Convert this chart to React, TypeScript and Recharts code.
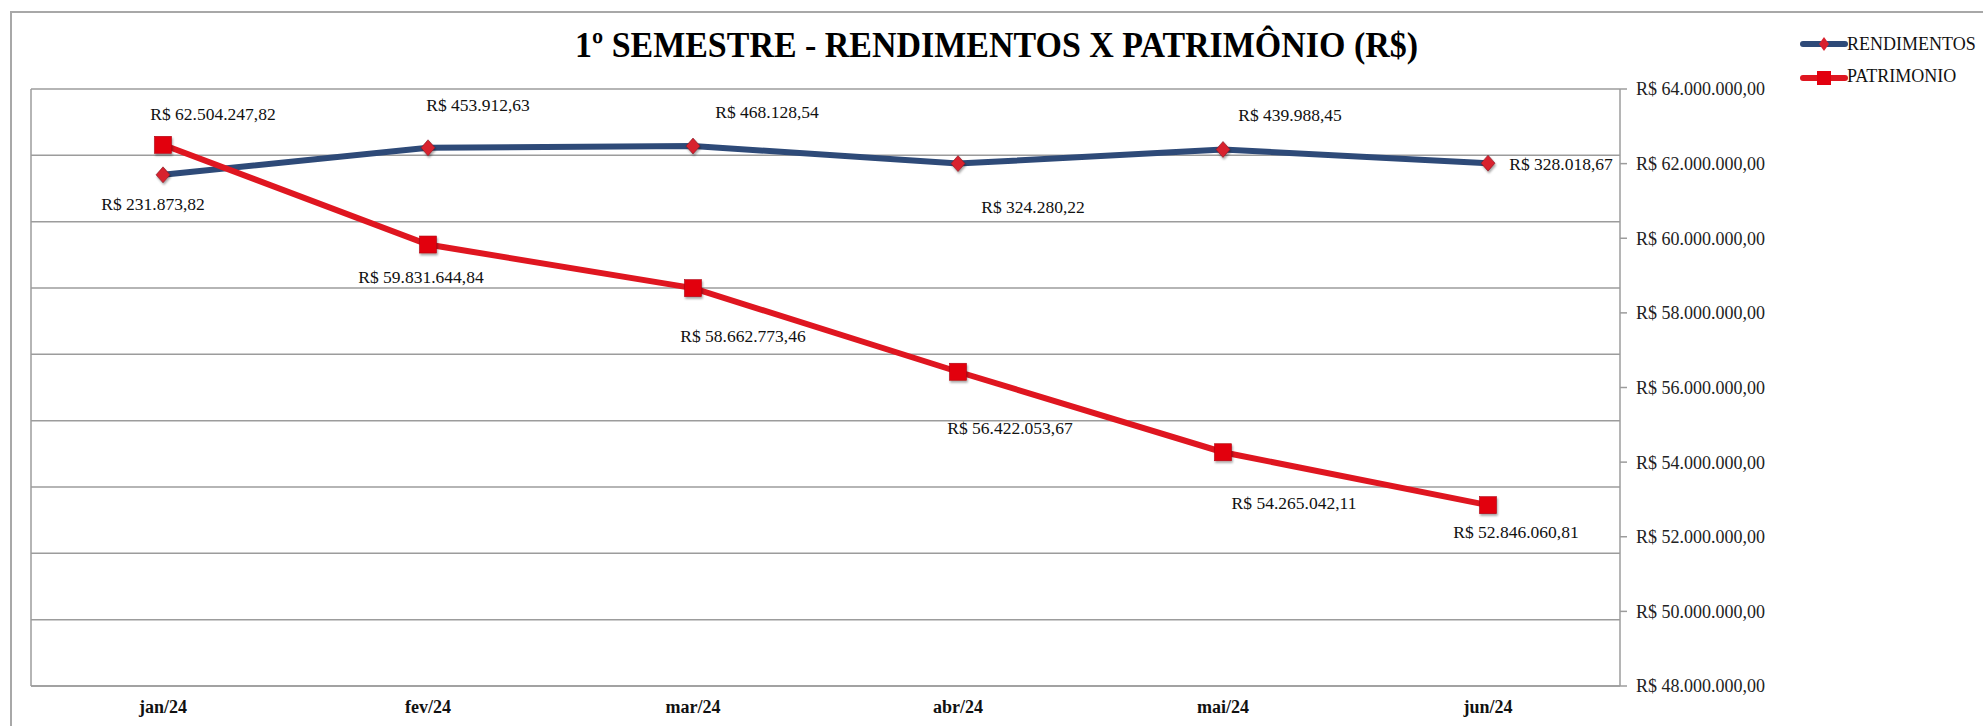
import React from 'react';
import { LineChart, Line, XAxis, YAxis, CartesianGrid, LabelList } from 'recharts';

const title = '1º SEMESTRE - RENDIMENTOS X PATRIMÔNIO (R$)';
const months = ['jan/24', 'fev/24', 'mar/24', 'abr/24', 'mai/24', 'jun/24'];
const rendimentos = [231873.82, 453912.63, 468128.54, 324280.22, 439988.45, 328018.67];
const patrimonio = [62504247.82, 59831644.84, 58662773.46, 56422053.67, 54265042.11, 52846060.81];
const seriesNames = ['RENDIMENTOS', 'PATRIMONIO'];
const patrimonioTicks = [48000000, 50000000, 52000000, 54000000, 56000000, 58000000, 60000000, 62000000, 64000000];
// hidden primary axis (rendimentos) – its ticks drive the horizontal gridlines
const rendimentosTicks = [-3960000, -3416000, -2872000, -2328000, -1784000, -1240000, -696000, -152000, 392000, 936000];

// label placement offsets (dx, dy) relative to each point – layout only
const rendLabelOffsets = [[-10, 29], [50, -43], [74, -34], [75, 43], [67, -34], [73, 1]];
const patrLabelOffsets = [[50, -31], [-7, 32], [50, 48], [52, 56], [71, 51], [28, 27]];

const data = months.map((m, i) => ({ month: m, rend: rendimentos[i], patr: patrimonio[i] }));

const brl = (v: number) => {
  const [i, d] = Math.abs(v).toFixed(2).split('.');
  const withDots = i.replace(/\B(?=(\d{3})+(?!\d))/g, '.');
  return 'R$ ' + withDots + ',' + d;
};

const FONT = '"Liberation Serif", "Times New Roman", serif';
const BLUE = '#2E4A78';
const RED = '#DF1620';
const GRID = '#9c9c9c';

const makeLabel = (offsets: number[][]) => (p: any) => {
  const idx = p.index ?? 0;
  const off = offsets[idx] || [0, 0];
  return (
    <text
      key={'l' + idx}
      x={Number(p.x) + off[0]}
      y={Number(p.y) + off[1]}
      textAnchor="middle"
      dominantBaseline="central"
      fontFamily={FONT}
      fontSize={17.5}
      fill="#111"
    >
      {brl(Number(p.value))}
    </text>
  );
};

const Diamond = (p: any) => {
  const { cx, cy, index } = p;
  if (cx == null || cy == null) return <g key={'d' + index} />;
  return (
    <path
      key={'d' + index}
      d={`M${cx},${cy - 8} L${cx + 7},${cy} L${cx},${cy + 8} L${cx - 7},${cy} Z`}
      fill="#D8202D"
      stroke="#7a1c26"
      strokeWidth={0.6}
      filter="url(#mkShadow)"
    />
  );
};

const Square = (p: any) => {
  const { cx, cy, index } = p;
  if (cx == null || cy == null) return <g key={'s' + index} />;
  return (
    <rect
      key={'s' + index}
      x={cx - 8.5}
      y={cy - 8.5}
      width={17}
      height={17}
      fill="#E2000F"
      stroke="#b0000a"
      strokeWidth={0.6}
      filter="url(#mkShadow)"
    />
  );
};

const hGen = (args: any) => {
  const ax = args && args.yAxis;
  const off = args && args.offset;
  const s = ax && ax.scale;
  if (typeof s === 'function') return rendimentosTicks.map((t) => s(t));
  if (s && typeof s.map === 'function') return rendimentosTicks.map((t) => s.map(t));
  if (off) {
    const min = rendimentosTicks[0];
    const max = rendimentosTicks[rendimentosTicks.length - 1];
    return rendimentosTicks.map((t) => off.top + ((max - t) / (max - min)) * off.height);
  }
  return [];
};

const vGen = (args: any) => {
  const off = args && args.offset;
  return off ? [off.left] : [];
};

export default function App() {
  return (
    <div
      style={{
        position: 'absolute',
        left: 0,
        top: 0,
        width: 1983,
        height: 726,
        background: '#fff',
        overflow: 'hidden',
      }}
    >
      <div
        style={{
          position: 'absolute',
          left: 10,
          top: 11,
          width: 2100,
          height: 900,
          border: '2px solid #a8a8a8',
          boxSizing: 'border-box',
        }}
      />
      <svg style={{ position: 'absolute', left: 0, top: 0 }} width={1983} height={80}>
        <text
          x={575}
          y={57}
          fontFamily={FONT}
          fontWeight="bold"
          fontSize={36}
          textLength={843}
          lengthAdjust="spacingAndGlyphs"
          fill="#000"
        >
          {title}
        </text>
      </svg>
      <div style={{ position: 'absolute', left: 0, top: 0 }}>
        <LineChart width={1983} height={726} data={data} margin={{ top: 89, left: 31, right: 203, bottom: 10 }}>
          <defs>
            <filter id="mkShadow" x="-50%" y="-50%" width="200%" height="200%">
              <feDropShadow dx="1" dy="2" stdDeviation="1.2" floodColor="#000" floodOpacity="0.35" />
            </filter>
          </defs>
          <CartesianGrid
            yAxisId="left"
            stroke={GRID}
            strokeWidth={1.5}
            horizontalCoordinatesGenerator={hGen}
            verticalCoordinatesGenerator={vGen}
          />
          <XAxis
            dataKey="month"
            padding={{ left: 132, right: 132 }}
            axisLine={{ stroke: GRID, strokeWidth: 1.5 }}
            tickLine={false}
            tickSize={0}
            tickMargin={14}
            height={30}
            tick={{ fontFamily: FONT, fontSize: 18, fontWeight: 'bold', fill: '#111' }}
          />
          <YAxis
            yAxisId="left"
            orientation="left"
            hide
            domain={[rendimentosTicks[0], rendimentosTicks[rendimentosTicks.length - 1]]}
            ticks={rendimentosTicks}
            allowDataOverflow
          />
          <YAxis
            yAxisId="right"
            orientation="right"
            width={160}
            domain={[patrimonioTicks[0], patrimonioTicks[patrimonioTicks.length - 1]]}
            ticks={patrimonioTicks}
            interval={0}
            tickFormatter={brl}
            tickSize={7}
            tickMargin={9}
            axisLine={{ stroke: GRID, strokeWidth: 1.5 }}
            tickLine={{ stroke: GRID, strokeWidth: 1.5 }}
            tick={{ fontFamily: FONT, fontSize: 18, fill: '#222' }}
          />
          <Line
            yAxisId="left"
            dataKey="rend"
            name={seriesNames[0]}
            stroke={BLUE}
            strokeWidth={6}
            dot={Diamond}
            activeDot={false}
            isAnimationActive={false}
          >
            <LabelList dataKey="rend" content={makeLabel(rendLabelOffsets)} />
          </Line>
          <Line
            yAxisId="right"
            dataKey="patr"
            name={seriesNames[1]}
            stroke={RED}
            strokeWidth={6}
            dot={Square}
            activeDot={false}
            isAnimationActive={false}
          >
            <LabelList dataKey="patr" content={makeLabel(patrLabelOffsets)} />
          </Line>
        </LineChart>
      </div>
      <svg style={{ position: 'absolute', left: 1800, top: 20 }} width={183} height={75}>
        <line x1={3} y1={24} x2={45} y2={24} stroke={BLUE} strokeWidth={6} strokeLinecap="round" />
        <path d="M24,17 L29,24 L24,31 L19,24 Z" fill="#D8202D" />
        <text x={47} y={24} dominantBaseline="central" fontFamily={FONT} fontSize={18} fill="#111">
          {seriesNames[0]}
        </text>
        <line x1={3} y1={58} x2={45} y2={58} stroke={RED} strokeWidth={6} strokeLinecap="round" />
        <rect x={17} y={51} width={14} height={14} fill="#E2000F" />
        <text x={47} y={56} dominantBaseline="central" fontFamily={FONT} fontSize={18} fill="#111">
          {seriesNames[1]}
        </text>
      </svg>
    </div>
  );
}
